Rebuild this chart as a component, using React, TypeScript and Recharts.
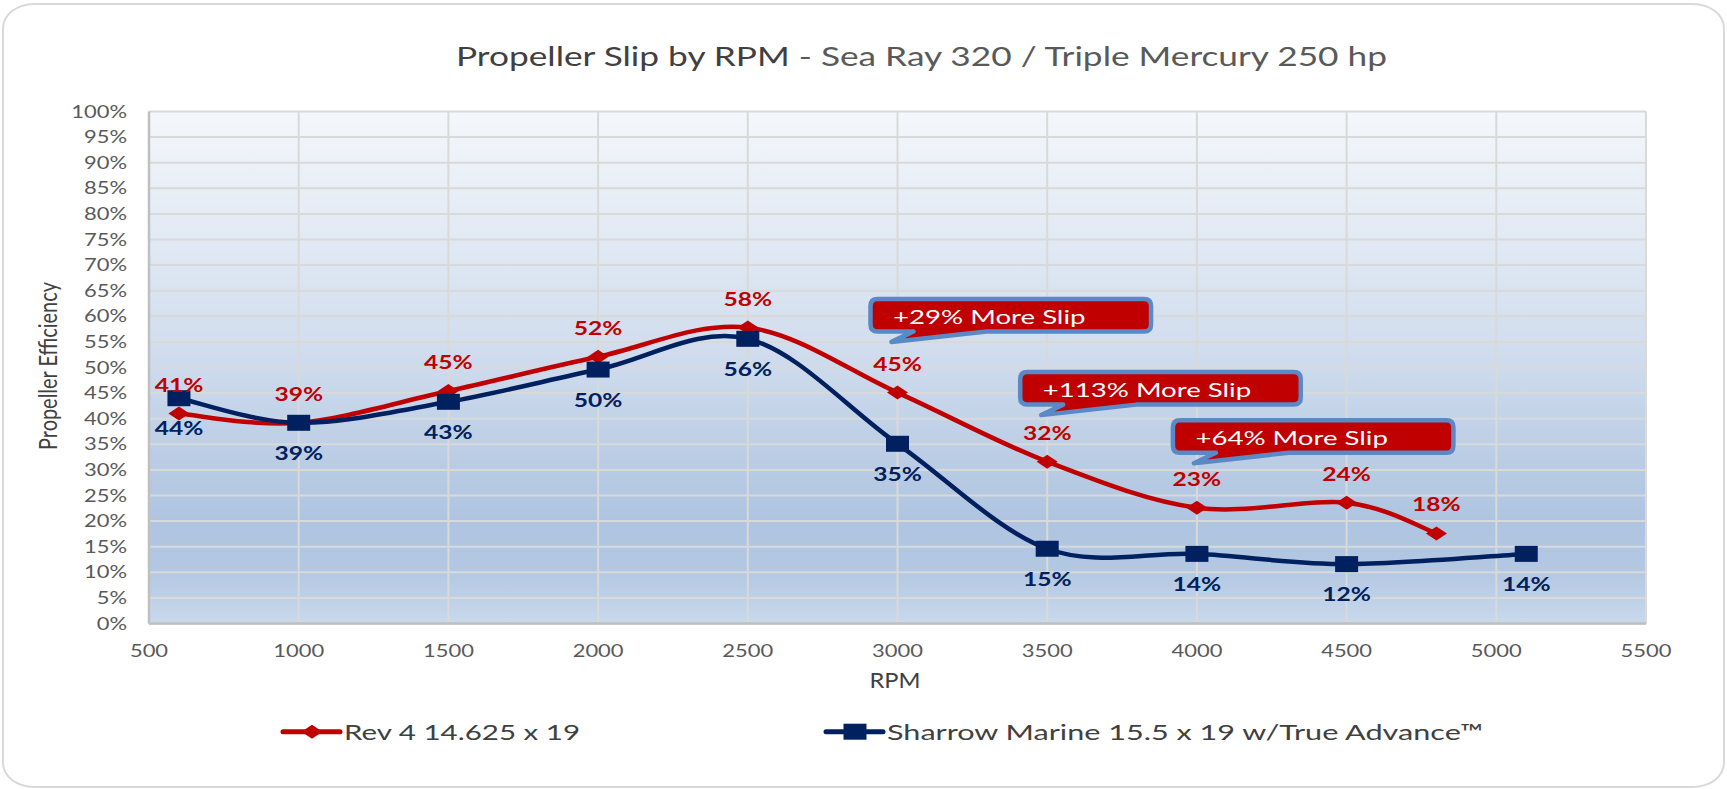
import {
  LineChart,
  Line,
  XAxis,
  YAxis,
  CartesianGrid,
  LabelList,
  Legend,
  ReferenceDot,
} from 'recharts'

// values
const rpmRev4 = [600, 1000, 1500, 2000, 2500, 3000, 3500, 4000, 4500, 4800]
const slipRev4 = [0.41, 0.392, 0.454, 0.521, 0.578, 0.451, 0.316, 0.226, 0.236, 0.176]
const rpmSharrow = [600, 1000, 1500, 2000, 2500, 3000, 3500, 4000, 4500, 5100]
const slipSharrow = [0.44, 0.392, 0.433, 0.496, 0.556, 0.351, 0.146, 0.136, 0.116, 0.136]

const xTicks = [500, 1000, 1500, 2000, 2500, 3000, 3500, 4000, 4500, 5000, 5500]
const yTicks = [0, 0.05, 0.1, 0.15, 0.2, 0.25, 0.3, 0.35, 0.4, 0.45, 0.5, 0.55, 0.6, 0.65, 0.7, 0.75, 0.8, 0.85, 0.9, 0.95, 1]

const calloutRpm = [2980, 3480, 3990]
const calloutSlip = [0.55, 0.407, 0.313]
const calloutText = ['+29% More Slip', '+113% More Slip', '+64% More Slip']

const rev4 = rpmRev4.map((rpm, i) => ({ rpm, slip: slipRev4[i] }))
const sharrow = rpmSharrow.map((rpm, i) => ({ rpm, slip: slipSharrow[i] }))

const RED = '#C00000'
const NAVY = '#002060'
const FONT = 'Lato, "Open Sans", sans-serif'
// the source picture was stretched sideways, so glyphs are widened
const SX = 1.26

const pct = (v: number) => `${Math.round(v * 100)}%`

// Excel style smoothing: cubic bezier with 1/6 neighbour tangents
function excelSmooth(context: any) {
  let pts: number[][] = []
  return {
    areaStart() {},
    areaEnd() {},
    lineStart() {
      pts = []
    },
    point(x: number, y: number) {
      pts.push([+x, +y])
    },
    lineEnd() {
      const n = pts.length
      if (!n) return
      context.moveTo(pts[0][0], pts[0][1])
      for (let i = 0; i < n - 1; i++) {
        const p0 = pts[Math.max(i - 1, 0)]
        const p1 = pts[i]
        const p2 = pts[i + 1]
        const p3 = pts[Math.min(i + 2, n - 1)]
        context.bezierCurveTo(
          p1[0] + (p2[0] - p0[0]) / 6,
          p1[1] + (p2[1] - p0[1]) / 6,
          p2[0] - (p3[0] - p1[0]) / 6,
          p2[1] - (p3[1] - p1[1]) / 6,
          p2[0],
          p2[1],
        )
      }
    },
  }
}

function YTick({ x, y, payload }: any) {
  return (
    <text
      transform={`translate(${x},${y + 6}) scale(1.33,1)`}
      textAnchor="end"
      fontFamily={FONT}
      fontSize={16.5}
      fill="#595959"
    >
      {pct(payload.value)}
    </text>
  )
}

function XTick({ x, y, payload }: any) {
  return (
    <text
      transform={`translate(${x},${y + 33}) scale(1.22,1)`}
      textAnchor="middle"
      fontFamily={FONT}
      fontSize={18}
      fill="#595959"
    >
      {payload.value}
    </text>
  )
}

function Diamond({ cx, cy }: any) {
  if (cx == null || cy == null) return null
  return <path d={`M${cx - 10.5},${cy} L${cx},${cy - 7} L${cx + 10.5},${cy} L${cx},${cy + 7} Z`} fill={RED} />
}

function Square({ cx, cy }: any) {
  if (cx == null || cy == null) return null
  return <rect x={cx - 11.5} y={cy - 8} width={23} height={16} fill={NAVY} />
}

function DataLabel({ x, y, value, color, dy }: any) {
  if (x == null || y == null) return null
  return (
    <text
      transform={`translate(${x},${y + dy}) scale(${SX},1)`}
      textAnchor="middle"
      fontFamily={FONT}
      fontWeight={700}
      fontSize={19.5}
      fill={color}
    >
      {pct(value)}
    </text>
  )
}

function Callout({ cx, cy, text }: any) {
  const L = cx - 21
  const R = cx + 259.5
  const T = cy - 43
  const B = cy - 10.5
  const r = 7
  const d = `M${L + r},${T} H${R - r} Q${R},${T} ${R},${T + r} V${B - r} Q${R},${B} ${R - r},${B} H${cx + 95} L${cx},${cy} L${cx + 22},${B} H${L + r} Q${L},${B} ${L},${B - r} V${T + r} Q${L},${T} ${L + r},${T} Z`
  return (
    <g>
      <path d={d} fill={RED} stroke="#5A89C5" strokeWidth={4.5} strokeLinejoin="round" />
      <text
        transform={`translate(${cx + 1.5},${cy - 18.3}) scale(1.38,1)`}
        fontFamily={FONT}
        fontSize={20}
        fill="#FFFFFF"
      >
        {text}
      </text>
    </g>
  )
}

const legendLeft = [282, 825]
const legendTextWidth = [236, 596]

function LegendContent({ payload }: any) {
  return (
    <div style={{ position: 'relative', width: 1727, height: 90 }}>
      {(payload || []).map((item: any, i: number) => (
        <svg
          key={item.value}
          width={legendTextWidth[i] + 80}
          height={90}
          style={{ position: 'absolute', left: legendLeft[i], top: 0, overflow: 'visible' }}
        >
          <line x1={1} x2={58} y1={42.7} y2={42.7} stroke={item.color} strokeWidth={5} strokeLinecap="round" />
          {i === 0 ? <Diamond cx={30} cy={42.7} /> : <Square cx={30} cy={42.7} />}
          <text
            x={62}
            y={50.5}
            textLength={legendTextWidth[i]}
            lengthAdjust="spacingAndGlyphs"
            fontFamily={FONT}
            fontSize={22}
            fill="#404040"
          >
            {item.value}
          </text>
        </svg>
      ))}
    </div>
  )
}

export default function App() {
  return (
    <div style={{ position: 'absolute', left: 0, top: 0, width: 1727, height: 789, background: '#fff' }}>
      <div
        style={{
          position: 'absolute',
          left: 2,
          top: 3,
          width: 1719,
          height: 781,
          border: '2.5px solid #D9D9D9',
          borderRadius: '32px / 25px',
        }}
      />
      <LineChart
        width={1727}
        height={789}
        margin={{ top: 111.5, right: 81, left: 0, bottom: 10 }}
      >
        <defs>
          <linearGradient id="plotBg" x1="0" y1="0" x2="0" y2="1">
            <stop offset="0%" stopColor="#F4F7FB" />
            <stop offset="45%" stopColor="#D2DEEE" />
            <stop offset="80%" stopColor="#AEC4E0" />
            <stop offset="90%" stopColor="#B3C8E2" />
            <stop offset="100%" stopColor="#C9D9EC" />
          </linearGradient>
        </defs>
        <text x={921.5} y={65.7} textAnchor="middle" textLength={931} lengthAdjust="spacingAndGlyphs" fontFamily={FONT} fontSize={26.5}>
          <tspan fill="#404040">Propeller Slip by RPM</tspan>
          <tspan fill="#595959"> - Sea Ray 320 / Triple Mercury 250 hp</tspan>
        </text>
        <text x={895} y={688} textAnchor="middle" textLength={51} lengthAdjust="spacingAndGlyphs" fontFamily={FONT} fontSize={21} fill="#404040">
          RPM
        </text>
        <text
          transform={`translate(47.5,366) scale(${SX},1) rotate(-90)`}
          textAnchor="middle"
          dominantBaseline="central"
          textLength={168}
          lengthAdjust="spacingAndGlyphs"
          fontFamily={FONT}
          fontSize={20}
          fill="#404040"
        >
          Propeller Efficiency
        </text>
        <CartesianGrid stroke="#D9D9D9" strokeWidth={2} fill="url(#plotBg)" fillOpacity={1} />
        <XAxis
          type="number"
          dataKey="rpm"
          domain={[500, 5500]}
          ticks={xTicks}
          allowDataOverflow
          height={65.5}
          tickSize={0}
          tickMargin={0}
          tickLine={false}
          axisLine={{ stroke: '#BFBFBF', strokeWidth: 2.5 }}
          tick={<XTick />}
        />
        <YAxis
          type="number"
          domain={[0, 1]}
          ticks={yTicks}
          width={149}
          tickSize={0}
          tickMargin={22}
          tickLine={false}
          axisLine={{ stroke: '#BFBFBF', strokeWidth: 2.5 }}
          tick={<YTick />}
        />
        <Legend
          verticalAlign="bottom"
          height={90}
          content={<LegendContent />}
          wrapperStyle={{ left: 0, bottom: 10, width: 1727, height: 90 }}
        />
        <Line
          data={rev4}
          dataKey="slip"
          name="Rev 4 14.625 x 19"
          type={excelSmooth as any}
          stroke={RED}
          strokeWidth={4.5}
          dot={<Diamond />}
          activeDot={false}
          isAnimationActive={false}
        >
          <LabelList dataKey="slip" content={<DataLabel color={RED} dy={-22} />} />
        </Line>
        <Line
          data={sharrow}
          dataKey="slip"
          name="Sharrow Marine 15.5 x 19 w/True Advance™"
          type={excelSmooth as any}
          stroke={NAVY}
          strokeWidth={4.5}
          dot={<Square />}
          activeDot={false}
          isAnimationActive={false}
        >
          <LabelList dataKey="slip" content={<DataLabel color={NAVY} dy={37} />} />
        </Line>
        {calloutRpm.map((rpm, i) => (
          <ReferenceDot
            key={calloutText[i]}
            x={rpm}
            y={calloutSlip[i]}
            ifOverflow="visible"
            shape={(p: any) => <Callout cx={p.cx} cy={p.cy} text={calloutText[i]} />}
          />
        ))}
      </LineChart>
    </div>
  )
}
